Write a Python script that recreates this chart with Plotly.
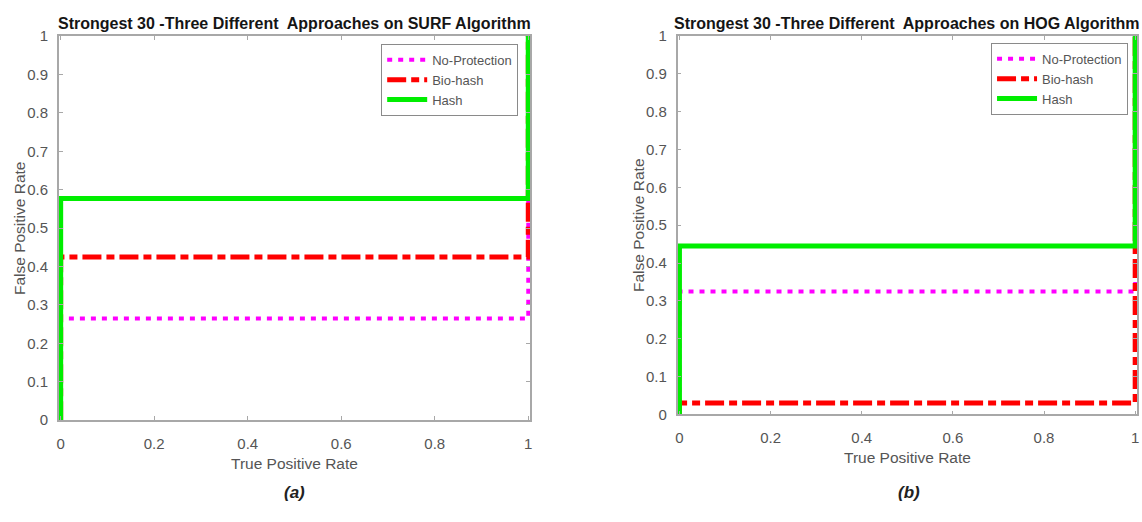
import plotly.graph_objects as go

# Operating-point curves (True Positive Rate, False Positive Rate)
surf_tpr = [0, 0, 1, 1]
surf_nop = [0, 0.265, 0.265, 1]
surf_bio = [0, 0.425, 0.425, 1]
surf_hash = [0, 0.577, 0.577, 1]

hog_tpr = [0, 0, 1, 1]
hog_nop = [0, 0.325, 0.325, 1]
hog_bio = [0, 0.03, 0.03, 1]
hog_hash = [0, 0.445, 0.445, 1]

series_names = ["No-Protection", "Bio-hash", "Hash"]
x_ticks = [0, 0.2, 0.4, 0.6, 0.8, 1]
x_tick_text = ["0", "0.2", "0.4", "0.6", "0.8", "1"]
y_ticks = [0, 0.1, 0.2, 0.3, 0.4, 0.5, 0.6, 0.7, 0.8, 0.9, 1]
y_tick_text = ["0", "0.1", "0.2", "0.3", "0.4", "0.5", "0.6", "0.7", "0.8", "0.9", "1"]

titles = ["Strongest 30 -Three Different  Approaches on SURF Algorithm",
          "Strongest 30 -Three Different  Approaches on HOG Algorithm"]
panel_tags = ["(a)", "(b)"]
x_title = "True Positive Rate"
y_title = "False Positive Rate"

W, H = 1142, 522
FONT = "Liberation Sans, Arial, sans-serif"
AXIS_GRAY = "#a8a8a8"
TEXT_GRAY = "#555555"

styles = [
    dict(color="#ff00ff", width=4, dash="5px,6px"),
    dict(color="#ff0000", width=5, dash="19px,5px,8px,5px"),
    dict(color="#00ee00", width=5, dash="solid"),
]

fig = go.Figure()

panels = [
    (surf_tpr, [surf_nop, surf_bio, surf_hash], "x", "y", "legend"),
    (hog_tpr, [hog_nop, hog_bio, hog_hash], "x2", "y2", "legend2"),
]
for tpr, curves, xa, ya, lg in panels:
    for name, fpr, st in zip(series_names, curves, styles):
        fig.add_trace(go.Scatter(
            x=tpr, y=fpr, mode="lines", name=name,
            line=st, xaxis=xa, yaxis=ya, legend=lg,
        ))

def px_x(p):
    return p / W

def px_y(p):
    return 1 - p / H

# panel boxes in pixel units: (left, right, top, bottom)
boxes = [(57, 530, 28, 425), (678, 1139, 28, 419)]

axis_common = dict(
    showgrid=False, zeroline=False, showline=True, linecolor=AXIS_GRAY,
    linewidth=1.5, mirror="ticks", ticks="inside", ticklen=4,
    tickcolor=AXIS_GRAY, tickfont=dict(family=FONT, size=15, color=TEXT_GRAY),
)

layout = dict(
    width=W, height=H,
    margin=dict(l=0, r=0, t=0, b=0),
    paper_bgcolor="white", plot_bgcolor="white",
    font=dict(family=FONT),
    annotations=[],
)

for i, (l, r, t, b) in enumerate(boxes):
    sx = "" if i == 0 else "2"
    layout["xaxis" + sx] = dict(
        axis_common, domain=[px_x(l), px_x(r)], range=[-0.004, 1.004],
        tickvals=x_ticks, ticktext=x_tick_text,
        anchor="y" + sx, ticklabelstandoff=9,
    )
    layout["yaxis" + sx] = dict(
        axis_common, domain=[px_y(b), px_y(t)], range=[0, 1],
        tickvals=y_ticks, ticktext=y_tick_text,
        anchor="x" + sx, ticklabelstandoff=6,
    )
    cx = (l + r) / 2
    layout["annotations"] += [
        dict(text="<b>" + titles[i] + "</b>", x=px_x(cx), y=px_y(15),
             xref="paper", yref="paper", xanchor="center", yanchor="middle",
             showarrow=False, font=dict(family=FONT, size=16, color="#151515")),
        dict(text=x_title, x=px_x(cx), y=px_y(b + 45),
             xref="paper", yref="paper", xanchor="center", yanchor="middle",
             showarrow=False, font=dict(family=FONT, size=15.5, color=TEXT_GRAY)),
        dict(text=y_title, x=px_x(l - 40), y=px_y((t + b) / 2), textangle=-90,
             xref="paper", yref="paper", xanchor="center", yanchor="middle",
             showarrow=False, font=dict(family=FONT, size=15.5, color=TEXT_GRAY)),
        dict(text="<b><i>" + panel_tags[i] + "</i></b>",
             x=px_x(cx + (0 if i == 0 else 2)), y=px_y(500),
             xref="paper", yref="paper", xanchor="center", yanchor="middle",
             showarrow=False, font=dict(family=FONT, size=17, color="#222222")),
    ]

legend_common = dict(
    bgcolor="white", bordercolor="#8a8a8a", borderwidth=1,
    font=dict(family=FONT, size=13, color=TEXT_GRAY),
    itemwidth=40, tracegroupgap=0,
    xanchor="right", yanchor="top", yref="paper", xref="paper",
)
layout["legend"] = dict(legend_common, x=px_x(518), y=px_y(36))
layout["legend2"] = dict(legend_common, x=px_x(1130), y=px_y(35))

fig.update_layout(**layout)
fig.write_html("out.html")
